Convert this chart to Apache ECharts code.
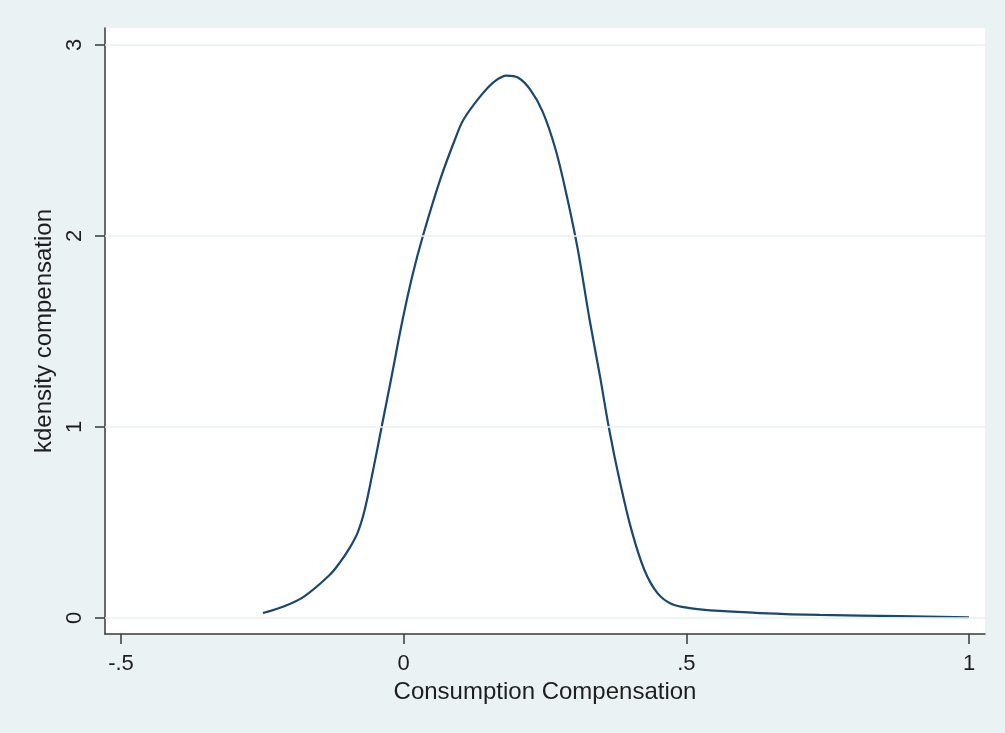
<!DOCTYPE html>
<html>
<head>
<meta charset="utf-8">
<script src="https://cdn.jsdelivr.net/npm/echarts@6/dist/echarts.min.js"></script>
<style>
html,body{margin:0;padding:0;background:#eaf2f3;}
#chart{width:1005px;height:733px;}
</style>
</head>
<body>
<div id="chart"></div>
<script>
// Data (kdensity of consumption compensation)
const xValues = [-0.249,-0.210,-0.175,-0.131,-0.113,-0.095,-0.081,-0.069,-0.055,-0.039,-0.021,-0.002,0.016,0.034,0.064,0.090,0.106,0.138,0.161,0.182,0.202,0.223,0.246,0.269,0.290,0.308,0.329,0.347,0.364,0.382,0.403,0.426,0.449,0.474,0.506,0.559,0.630,0.736,0.877,1.000];
const densityValues = [0.026,0.063,0.115,0.225,0.290,0.370,0.450,0.565,0.760,1.000,1.270,1.560,1.800,2.000,2.290,2.500,2.610,2.740,2.810,2.840,2.830,2.770,2.650,2.450,2.190,1.930,1.560,1.270,0.980,0.720,0.460,0.250,0.130,0.073,0.052,0.037,0.026,0.016,0.010,0.003];
const xTicks = [-0.5, 0, 0.5, 1];
const xTickLabels = ['-.5', '0', '.5', '1'];
const yTicks = [0, 1, 2, 3];
const yTickLabels = ['0', '1', '2', '3'];
const xTitle = 'Consumption Compensation';
const yTitle = 'kdensity compensation';

const FONT = "'Liberation Sans', Arial, Helvetica, sans-serif";
const chart = echarts.init(document.getElementById('chart'), null, {renderer: 'canvas'});
const points = xValues.map((x, i) => [x, densityValues[i]]);

chart.setOption({
  backgroundColor: '#eaf2f3',
  animation: false,
  grid: {
    left: 105, top: 28, width: 880, height: 606,
    show: true, backgroundColor: '#ffffff', borderWidth: 0, containLabel: false
  },
  xAxis: {
    type: 'value',
    min: -0.5 - 16 / 565.5,
    max: 1 + 16 / 565.5,
    axisLine: {show: true, onZero: false, lineStyle: {color: '#3a3a3a', width: 1.5}},
    axisTick: {show: true, customValues: xTicks, length: 10, lineStyle: {color: '#3a3a3a', width: 1.5}},
    axisLabel: {
      show: true, customValues: xTicks, margin: 19,
      fontSize: 22, color: '#1e1e1e', fontFamily: FONT,
      formatter: v => xTickLabels[xTicks.findIndex(t => Math.abs(t - v) < 1e-9)]
    },
    splitLine: {show: false},
    name: xTitle, nameLocation: 'middle', nameGap: 44,
    nameTextStyle: {fontSize: 24, color: '#1e1e1e', fontFamily: FONT}
  },
  yAxis: {
    type: 'value',
    min: -16 / 191,
    max: 3 + 17 / 191,
    axisLine: {show: true, onZero: false, lineStyle: {color: '#3a3a3a', width: 1.5}},
    axisTick: {show: true, customValues: yTicks, length: 10, lineStyle: {color: '#3a3a3a', width: 1.5}},
    axisLabel: {
      show: true, customValues: yTicks, margin: 19, rotate: 90,
      fontSize: 22, color: '#1e1e1e', fontFamily: FONT,
      formatter: v => yTickLabels[yTicks.findIndex(t => Math.abs(t - v) < 1e-9)]
    },
    splitLine: {show: false},
    name: yTitle, nameLocation: 'middle', nameGap: 41, nameRotate: 90,
    nameTextStyle: {fontSize: 24, color: '#1e1e1e', fontFamily: FONT}
  },
  series: [
    {
      type: 'scatter', data: [], z: 1, silent: true,
      markLine: {
        silent: true, symbol: ['none', 'none'], label: {show: false},
        lineStyle: {color: '#eaf2f3', width: 1.5, type: 'solid'},
        data: yTicks.map(v => ({yAxis: v}))
      }
    },
    {
      type: 'line', data: points, z: 3,
      showSymbol: false, smooth: 0.35,
      lineStyle: {color: '#1a476f', width: 2.2}
    }
  ]
});
</script>
</body>
</html>
